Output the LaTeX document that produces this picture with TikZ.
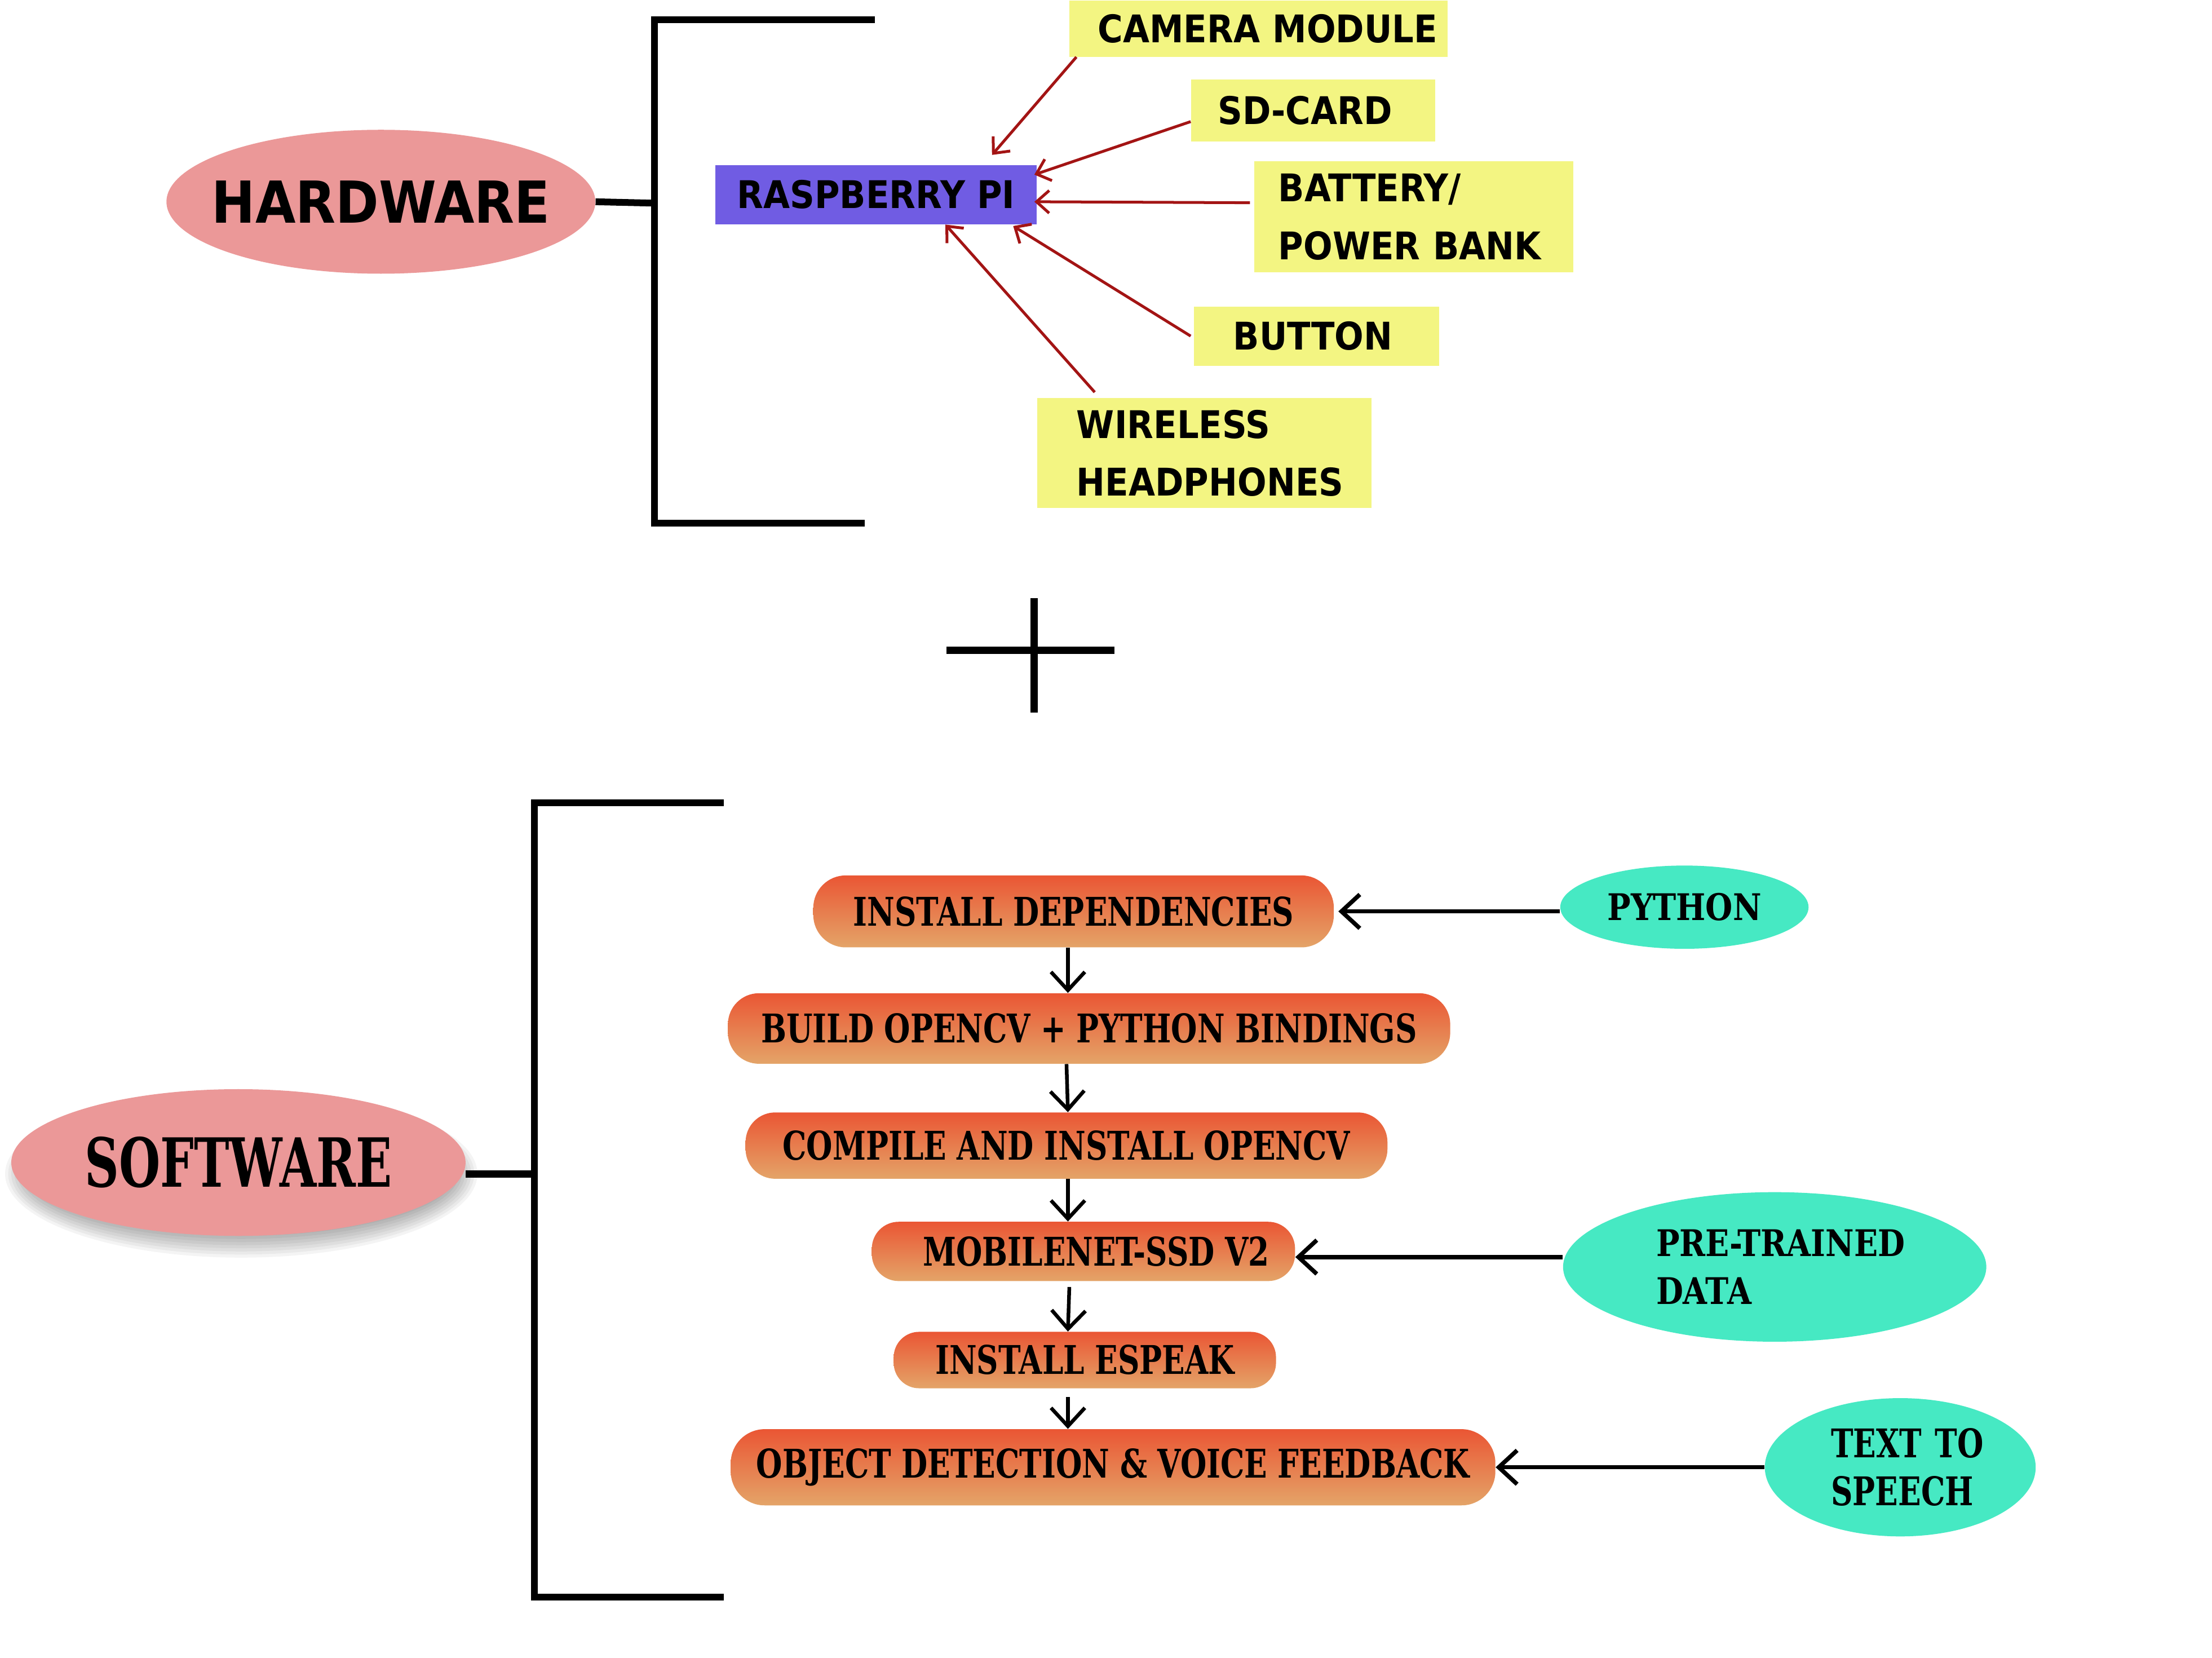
\documentclass[tikz,border=0pt]{standalone}
\usepackage{fontspec}
\setmainfont{DejaVu Sans}
\newfontfamily\techfont[FakeStretch=0.9]{DejaVu Sans}
\newfontfamily\slabfont[FakeStretch=0.76]{DejaVu Serif}
\newfontfamily\slabsw[FakeStretch=0.7]{DejaVu Serif}
\newfontfamily\slabg[FakeStretch=0.85]{DejaVu Serif}
\usetikzlibrary{arrows.meta,shapes.geometric,calc}
\definecolor{hwpink}{RGB}{235,152,152}
\definecolor{rpiblue}{RGB}{112,92,227}
\definecolor{ylw}{RGB}{243,245,130}
\definecolor{redarr}{RGB}{163,20,20}
\definecolor{orTop}{RGB}{234,86,52}
\definecolor{orBot}{RGB}{228,164,104}
\definecolor{tealG}{RGB}{70,233,195}
\tikzset{
  techtext/.style={font=\techfont\bfseries\fontsize{27}{41}\selectfont},
  ybox/.style={techtext, fill=ylw, anchor=north west, inner ysep=0pt, align=left},
  hwell/.style={ellipse, fill=hwpink, inner sep=0pt},
  pill/.style={top color=orTop, bottom color=orBot, draw=none, inner sep=0pt,
    font=\slabfont\bfseries\fontsize{28}{30}\selectfont},
  gell/.style={ellipse, fill=tealG, inner sep=0pt, align=left,
    font=\slabg\bfseries\fontsize{26}{34}\selectfont},
  barrow/.style={-{Straight Barb[length=13pt,width=24pt]}, line width=3pt},
  varrow/.style={-{Straight Barb[length=13pt,width=24pt]}, line width=2.6pt},
  rarrow/.style={-{Straight Barb[length=9pt,width=16pt]}, line width=2pt, draw=redarr},
  bracket/.style={line width=4.8pt}
}
\begin{document}
\begin{tikzpicture}[x=1pt,y=-1pt]
\fill[white] (0,0) rectangle (1568,1175);
\useasboundingbox (0,0) rectangle (1568,1175);

% ---------------- HARDWARE ----------------
\node[hwell, minimum width=304pt, minimum height=102pt,
  font=\techfont\bfseries\fontsize{41}{41}\selectfont] (hw) at (270,143) {\makebox[0pt]{\raisebox{-2pt}{HARDWARE}}};
\coordinate (hwb) at (464,144);
\draw[bracket] (hw.east) -- (hwb);
\draw[bracket] (620,14) -- (464,14) -- (464,371) -- (613,371);

\node[techtext, fill=rpiblue, minimum width=228pt, minimum height=42pt, inner sep=0pt] (rpi) at (621,138) {RASPBERRY PI};

\node[ybox, inner xsep=20pt, text width=228pt, minimum height=40pt] (cam) at (758,0) {\mbox{CAMERA MODULE}};
\node[ybox, inner xsep=19pt, text width=135pt, minimum height=44pt] (sd) at (844,56) {\mbox{SD-CARD}};
\node[ybox, inner xsep=17pt, text width=192pt, minimum height=79pt] (bat) at (889,114) {\mbox{BATTERY/}\\\mbox{POWER BANK}};
\node[ybox, inner xsep=28pt, text width=118pt, minimum height=42pt] (btn) at (846,217) {\mbox{BUTTON}};
\node[ybox, inner xsep=28pt, text width=181pt, minimum height=78pt] (wl) at (735,282) {\mbox{WIRELESS}\\\mbox{HEADPHONES}};

\draw[rarrow] ([xshift=5pt]cam.south west) -- ([xshift=-32pt,yshift=7pt]rpi.north east);
\draw[rarrow] ([yshift=-8pt]sd.west) -- ([xshift=-2pt,yshift=-7pt]rpi.north east);
\draw[rarrow] ([xshift=-3pt,yshift=10pt]bat.west) -- ([xshift=-2pt,yshift=-5pt]rpi.east);
\draw[rarrow] ([xshift=-2pt]btn.west) -- ([xshift=-17pt,yshift=-1pt]rpi.south east);
\draw[rarrow] ([xshift=41pt,yshift=4pt]wl.north west) -- ([xshift=-65pt]rpi.south east);

% ---------------- PLUS ----------------
\draw[line width=5pt] (671,461) -- (790,461);
\draw[line width=5pt] (733,424) -- (733,505);

% ---------------- SOFTWARE ----------------
\foreach \i in {0,...,7} {
  \fill[black, opacity=0.045] (171,832) ellipse ({152+2.2*\i} and {44+2.2*\i});
}
\node[hwell, minimum width=322pt, minimum height=104pt,
  font=\slabsw\bfseries\fontsize{48}{48}\selectfont] (sw) at (169,824) {\makebox[0pt]{\raisebox{-2pt}{SOFTWARE}}};
\coordinate (swb) at (379,832);
\draw[line width=5.2pt] ([yshift=-8pt]sw.east) -- (swb);
\draw[bracket] (513,569) -- (379,569) -- (379,1132) -- (513,1132);

\node[pill, rounded corners=23pt, minimum width=369pt, minimum height=51pt] (dep) at (761,646) {INSTALL DEPENDENCIES};
\node[pill, rounded corners=22pt, minimum width=512pt, minimum height=50pt] (build) at (772,729) {BUILD OPENCV + PYTHON BINDINGS};
\node[pill, rounded corners=21pt, minimum width=455pt, minimum height=47pt] (comp) at (756,812) {COMPILE AND INSTALL OPENCV};
\node[pill, rounded corners=19pt, minimum width=300pt, minimum height=42pt] (mob) at (768,887) {\hspace*{18pt}MOBILENET-SSD V2};
\node[pill, rounded corners=18pt, minimum width=271pt, minimum height=40pt] (esp) at (769,964) {INSTALL ESPEAK};
\node[pill, rounded corners=24pt, minimum width=542pt, minimum height=54pt] (obj) at (789,1040) {OBJECT DETECTION \& VOICE FEEDBACK};

\draw[varrow] ([xshift=-4pt]dep.south) -- ([xshift=-15pt]build.north);
\draw[varrow] ([xshift=-16pt]build.south) -- ([xshift=1pt]comp.north);
\draw[varrow] ([xshift=1pt]comp.south) -- ([xshift=-11pt]mob.north);
\draw[varrow] ([xshift=-10pt,yshift=-4pt]mob.south) -- ([xshift=-12pt]esp.north);
\draw[varrow] ([xshift=-12pt,yshift=-6pt]esp.south) -- ([xshift=-32pt]obj.north);

\node[gell, minimum width=176pt, minimum height=59pt] (py) at (1194,643) {PYTHON};
\node[gell, minimum width=300pt, minimum height=106pt, text width=168pt] (pt) at (1258,898) {\mbox{PRE-TRAINED}\\\mbox{DATA}};
\node[gell, minimum width=192pt, minimum height=98pt, text width=98pt,
  font=\slabfont\bfseries\fontsize{28}{34}\selectfont] (tts) at (1347,1040) {\mbox{TEXT TO}\\\mbox{SPEECH}};

\draw[barrow] ([yshift=-3pt]py.west) -- ([xshift=3pt]dep.east);
\draw[barrow] ([yshift=7pt]pt.west) -- ([yshift=-4pt]mob.east);
\draw[barrow] (tts.west) -- (obj.east);
\end{tikzpicture}
\end{document}
